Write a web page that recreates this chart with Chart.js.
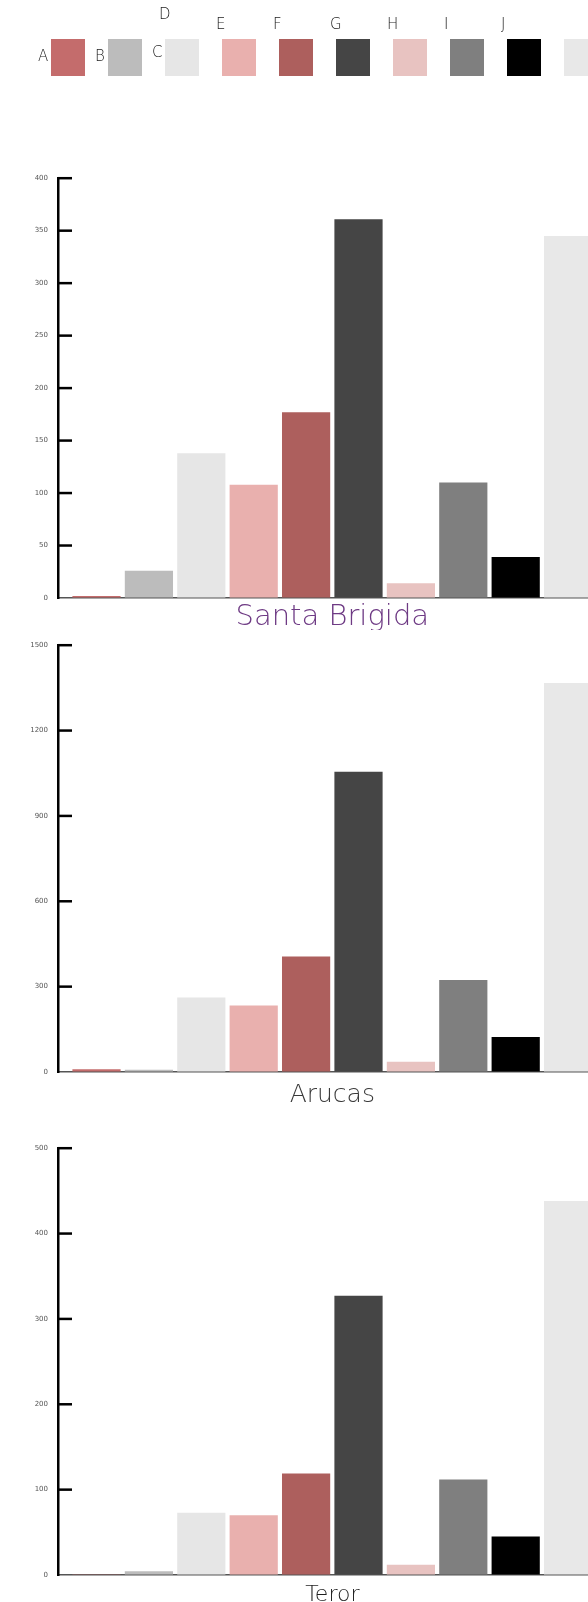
<!DOCTYPE html>
<html>
<head>
<meta charset="utf-8">
<script src="https://cdn.jsdelivr.net/npm/chart.js@4.4.0/dist/chart.umd.min.js"></script>
<style>
  html, body { margin: 0; padding: 0; background: #fff; width: 588px; height: 1602px; overflow: hidden; }
  #legend { position: absolute; left: 0; top: 0; width: 588px; height: 100px; font-family: "DejaVu Sans", sans-serif; font-size: 15px; font-weight: 200; color: #222; will-change: transform; }
  #legend .box { position: absolute; top: 39px; width: 34px; height: 37px; }
  #legend .lbl { position: absolute; line-height: 15px; }
  .chart-box { position: absolute; left: 0; width: 588px; }
</style>
</head>
<body>
<div id="legend"></div>
<div class="chart-box" style="top:164px;height:466px"><canvas id="chart1"></canvas></div>
<div class="chart-box" style="top:631px;height:473px"><canvas id="chart2"></canvas></div>
<div class="chart-box" style="top:1134px;height:473px"><canvas id="chart3"></canvas></div>
<script>
// categorie e colori
const categories = ['A', 'B', 'C', 'D', 'E', 'F', 'G', 'H', 'I', 'J'];
const barColors = ['#c46c6c', '#bcbcbc', '#e6e6e6', '#e9b0ae', '#ad5f5d', '#454545', '#e8c3c1', '#7f7f7f', '#000000', '#e8e8e8'];

// valori
const santaBrigidaValues = [2, 26, 138, 108, 177, 361, 14, 110, 39, 345];
const arucasValues = [10, 8, 262, 234, 406, 1055, 36, 323, 123, 1367];
const terorValues = [1, 4.5, 73, 70, 119, 327, 12, 112, 45, 438];

// tacche asse y
const santaBrigidaTicks = [0, 50, 100, 150, 200, 250, 300, 350, 400];
const arucasTicks = [0, 300, 600, 900, 1200, 1500];
const terorTicks = [0, 100, 200, 300, 400, 500];

// --- legenda HTML ---
const legend = document.getElementById('legend');
const boxLeft = i => 51 + i * 57;
categories.forEach((cat, i) => {
  const box = document.createElement('div');
  box.className = 'box';
  box.style.left = boxLeft(i) + 'px';
  box.style.background = barColors[i];
  legend.appendChild(box);
});
categories.forEach((cat, i) => {
  const lbl = document.createElement('div');
  lbl.className = 'lbl';
  lbl.textContent = cat;
  if (i < 3) {
    lbl.style.left = (boxLeft(i) - 13) + 'px';
    lbl.style.top = (i === 2 ? 45 : 49) + 'px';
  } else {
    lbl.style.left = (boxLeft(i - 1) - 6) + 'px';
    lbl.style.top = (i === 3 ? 7 : 17) + 'px';
  }
  legend.appendChild(lbl);
});

// tacche interne all'asse y
const innerTicks = {
  id: 'innerTicks',
  afterDatasetsDraw(chart) {
    const { ctx, chartArea, scales: { y } } = chart;
    ctx.save();
    ctx.strokeStyle = '#000';
    ctx.lineWidth = 2.5;
    y.ticks.forEach((t, i) => {
      if (t.value === 0) return;
      const py = y.getPixelForTick(i);
      ctx.beginPath();
      ctx.moveTo(chartArea.left, py);
      ctx.lineTo(chartArea.left + 14, py);
      ctx.stroke();
    });
    ctx.restore();
  }
};

// titolo sotto il grafico, centrato sulle barre
const bottomTitle = {
  id: 'bottomTitle',
  afterDraw(chart, args, opts) {
    const { ctx, chartArea, scales: { x } } = chart;
    ctx.save();
    ctx.font = `${opts.weight} ${opts.size}px "DejaVu Sans"`;
    ctx.fillStyle = opts.color;
    ctx.textAlign = 'center';
    ctx.textBaseline = 'alphabetic';
    ctx.fillText(opts.text, x.getPixelForValue((categories.length - 1) / 2), chartArea.bottom + opts.baseline);
    ctx.restore();
  }
};

const makeChart = (id, titleOpts, values, ticks) => {
  const ctx = document.getElementById(id).getContext('2d');
  return new Chart(ctx, {
    type: 'bar',
    data: {
      datasets: [{
        data: values.map((v, i) => ({ x: i, y: v })),
        backgroundColor: barColors,
        borderWidth: 0,
        barPercentage: 0.92,
        categoryPercentage: 1
      }]
    },
    options: {
      responsive: true,
      maintainAspectRatio: false,
      animation: false,
      layout: { padding: { bottom: 32 } },
      plugins: { legend: { display: false }, tooltip: { enabled: false }, bottomTitle: titleOpts },
      scales: {
        x: {
          type: 'linear',
          offset: false,
          min: -0.735,
          max: 9.38,
          z: 1,
          afterBuildTicks: scale => { scale.ticks = categories.map((c, i) => ({ value: i })); },
          ticks: { display: false },
          grid: { drawOnChartArea: false, drawTicks: false },
          border: { color: '#555', width: 1.5 }
        },
        y: {
          min: 0,
          max: ticks[ticks.length - 1],
          afterBuildTicks: scale => { scale.ticks = ticks.map(v => ({ value: v })); },
          afterFit: scale => { scale.width = 58; },
          ticks: { color: '#555', font: { family: 'DejaVu Sans', size: 7 }, padding: 10, callback: v => String(v) },
          grid: { drawOnChartArea: false, drawTicks: false },
          border: { color: '#000', width: 2.5 }
        }
      }
    },
    plugins: [innerTicks, bottomTitle]
  });
};

makeChart('chart1', { text: 'Santa Brigida', color: '#6e3a84', size: 29, weight: 200, baseline: 27 }, santaBrigidaValues, santaBrigidaTicks);
makeChart('chart2', { text: 'Arucas', color: '#3a3a3a', size: 25, weight: 200, baseline: 30 }, arucasValues, arucasTicks);
makeChart('chart3', { text: 'Teror', color: '#1e1e1e', size: 22, weight: 200, baseline: 26 }, terorValues, terorTicks);
</script>
</body>
</html>
